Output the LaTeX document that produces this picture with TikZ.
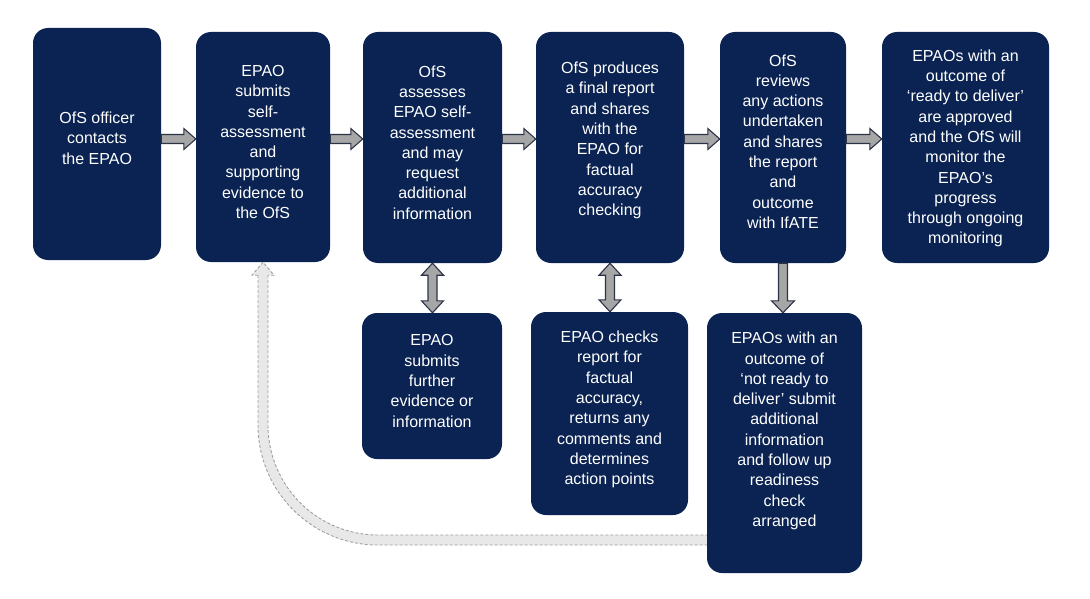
\documentclass[tikz,border=0pt]{standalone}
\usepackage{fontspec}
\setmainfont{Liberation Sans}
\usetikzlibrary{calc}
\definecolor{navy}{RGB}{10,35,82}
\definecolor{arrfill}{RGB}{166,166,166}
\definecolor{arredge}{RGB}{43,51,70}
\definecolor{retfillc}{RGB}{232,232,232}
\definecolor{retedgec}{RGB}{160,160,160}
\tikzset{
  box/.style={draw=none,fill=navy,rounded corners=15pt,inner sep=0pt},
  btext/.style={text=white,align=center,inner sep=0pt,font=\fontsize{16}{20.3}\selectfont},
  barr/.style={fill=arrfill,draw=arredge,line width=1.1pt,line join=miter},
  retedge/.style={draw=retedgec,line width=0.9pt,dash pattern=on 3pt off 2pt},
}
\newcommand\harr[2]{\draw[barr] ($(#1)+(0,-4.5)$) -- ($(#2)+(-12,-4.5)$) -- ($(#2)+(-12,-10.5)$) -- (#2) -- ($(#2)+(-12,10.5)$) -- ($(#2)+(-12,4.5)$) -- ($(#1)+(0,4.5)$) -- cycle;}
\newcommand\varr[2]{\draw[barr] (#1) -- ($(#1)+(11,12)$) -- ($(#1)+(4.5,12)$) -- ($(#2)+(4.5,-12)$) -- ($(#2)+(11,-12)$) -- (#2) -- ($(#2)+(-11,-12)$) -- ($(#2)+(-4.5,-12)$) -- ($(#1)+(-4.5,12)$) -- ($(#1)+(-11,12)$) -- cycle;}
\newcommand\darr[2]{\draw[barr] ($(#1)+(-4.5,0)$) -- ($(#2)+(-4.5,-12)$) -- ($(#2)+(-11.5,-12)$) -- (#2) -- ($(#2)+(11.5,-12)$) -- ($(#2)+(4.5,-12)$) -- ($(#1)+(4.5,0)$) -- cycle;}
\begin{document}
\begin{tikzpicture}[x=1pt,y=-1pt]
\useasboundingbox (0,0) rectangle (1090,599);
% boxes
\node[box,minimum width=128pt,minimum height=232pt] (b1) at (97,144) {};
\node[box,minimum width=134pt,minimum height=230pt] (b2) at (263,147) {};
\node[box,minimum width=139pt,minimum height=231pt] (b3) at (432.5,147.5) {};
\node[box,minimum width=148pt,minimum height=231pt] (b4) at (610,147.5) {};
\node[box,minimum width=126pt,minimum height=231pt] (b5) at (783,147.5) {};
\node[box,minimum width=167pt,minimum height=231pt] (b6) at (965.5,147.5) {};
\node[box,minimum width=140pt,minimum height=146pt] (b7) at (432,386) {};
\node[box,minimum width=157pt,minimum height=203pt] (b8) at (609.5,413.5) {};
\node[box,minimum width=155pt,minimum height=260pt] (b9) at (784.5,443) {};
% texts
\node[btext] (t1) at ($(b1.center)+(0,-6)$) {OfS officer\\contacts\\the EPAO};
\node[btext] (t2) at ($(b2.center)+(0,-5)$) {EPAO\\submits\\self-\\assessment\\and\\supporting\\evidence to\\the OfS};
\node[btext] (t3) at ($(b3.center)+(0,-5)$) {OfS\\assesses\\EPAO self-\\assessment\\and may\\request\\additional\\information};
\node[btext] (t4) at ($(b4.center)+(0,-7)$) {OfS produces\\a final report\\and shares\\with the\\EPAO for\\factual\\accuracy\\checking};
\node[btext] (t5) at ($(b5.center)+(0,-6)$) {OfS\\reviews\\any actions\\undertaken\\and shares\\the report\\and\\outcome\\with IfATE};
\node[btext] (t6) at ($(b6.center)+(0,1)$) {EPAOs with an\\outcome of\\‘ready to deliver’\\are approved\\and the OfS will\\monitor the\\EPAO’s\\progress\\through ongoing\\monitoring};
\node[btext] (t7) at ($(b7.center)+(0,-5)$) {EPAO\\submits\\further\\evidence or\\information};
\node[btext] (t8) at ($(b8.center)+(0,-4)$) {EPAO checks\\report for\\factual\\accuracy,\\returns any\\comments and\\determines\\action points};
\node[btext] (t9) at ($(b9.center)+(0,-12)$) {EPAOs with an\\outcome of\\‘not ready to\\deliver’ submit\\additional\\information\\and follow up\\readiness\\check\\arranged};
% horizontal arrows
\coordinate (h1s) at (b1.east |- 0,139); \coordinate (h1e) at (b2.west |- 0,139);
\coordinate (h2s) at (b2.east |- 0,139); \coordinate (h2e) at (b3.west |- 0,139);
\coordinate (h3s) at (b3.east |- 0,139); \coordinate (h3e) at (b4.west |- 0,139);
\coordinate (h4s) at (b4.east |- 0,139); \coordinate (h4e) at (b5.west |- 0,139);
\coordinate (h5s) at (b5.east |- 0,139); \coordinate (h5e) at (b6.west |- 0,139);
\harr{h1s}{h1e}
\harr{h2s}{h2e}
\harr{h3s}{h3e}
\harr{h4s}{h4e}
\harr{h5s}{h5e}
% vertical arrows
\coordinate (v1s) at (b3.south); \coordinate (v1e) at (b3.south |- b7.north);
\coordinate (v2s) at (b4.south); \coordinate (v2e) at (b4.south |- b8.north);
\coordinate (v3s) at (b5.south); \coordinate (v3e) at (b5.south |- b9.north);
\varr{v1s}{v1e}
\varr{v2s}{v2e}
\darr{v3s}{v3e}
% return arrow
\coordinate (rt) at (b2.south);
\coordinate (rc) at (b2.south |- 0,540);
\coordinate (re) at (b9.west |- 0,540);
\draw[draw=retfillc,line width=10pt,rounded corners=115pt] ($(rt)+(0,13)$) -- (rc) -- (re);
\draw[retedge,rounded corners=120pt] ($(rt)+(-5,13)$) -- ($(rc)+(-5,5)$) -- ($(re)+(0,5)$);
\draw[retedge,rounded corners=110pt] ($(rt)+(5,13)$) -- ($(rc)+(5,-5)$) -- ($(re)+(0,-5)$);
\draw[retedge,fill=retfillc] ($(rt)+(-5,13)$) -- ($(rt)+(-11,13)$) -- (rt) -- ($(rt)+(11,13)$) -- ($(rt)+(5,13)$);
\end{tikzpicture}
\end{document}
